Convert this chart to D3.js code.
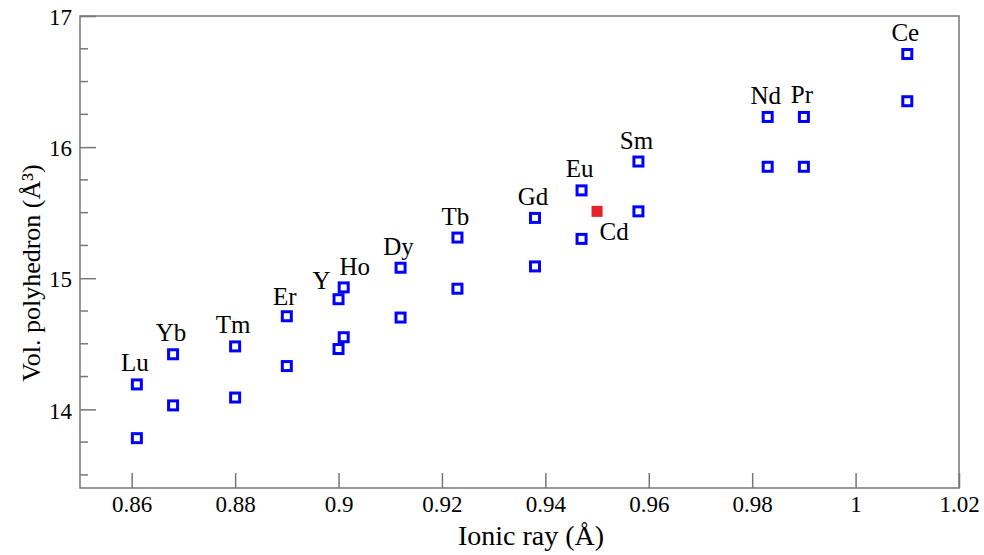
<!DOCTYPE html>
<html>
<head>
<meta charset="utf-8">
<script src="https://cdn.jsdelivr.net/npm/d3@7"></script>
<style>
    body { margin: 0; background: #fff; }
    svg text { font-family: "Liberation Serif", "DejaVu Serif", serif; fill: #000; }
</style>
</head>
<body>
<div id="chart"></div>
<script>
var width = 984,
    height = 555,
    margin = {top: 16, right: 25, bottom: 67, left: 80}
;

// Data
var elements = ['Lu', 'Yb', 'Tm', 'Er', 'Y', 'Ho', 'Dy', 'Tb', 'Gd', 'Eu', 'Sm', 'Nd', 'Pr', 'Ce'];
var ionicRay = [0.861, 0.868, 0.880, 0.890, 0.900, 0.901, 0.912, 0.923, 0.938, 0.947, 0.958, 0.983, 0.990, 1.010];
var volUpper = [14.19, 14.42, 14.48, 14.71, 14.84, 14.93, 15.08, 15.31, 15.46, 15.67, 15.89, 16.23, 16.23, 16.71];
var volLower = [13.78, 14.03, 14.09, 14.33, 14.46, 14.55, 14.70, 14.92, 15.09, 15.30, 15.51, 15.85, 15.85, 16.35];
var cdName = 'Cd',
    cdRay = 0.950,
    cdVol = 15.51;
var xTicks = [0.86, 0.88, 0.9, 0.92, 0.94, 0.96, 0.98, 1, 1.02];
var yTicks = [14, 15, 16, 17];
var yMinorTicks = [13.5, 13.75, 14.25, 14.5, 14.75, 15.25, 15.5, 15.75, 16.25, 16.5, 16.75];

var svg = d3.select('#chart')
    .append('svg')
    .attr('width', width)
    .attr('height', height)
;

var w = width - margin.left - margin.right,
    h = height - margin.top - margin.bottom;

var graph = svg.append('g')
    .attr('transform', 'translate(' + margin.left + ',' + margin.top + ')');

var x = d3.scaleLinear().domain([0.85, 1.02]).range([0, w]),
    y = d3.scaleLinear().domain([13.4, 17]).range([h, 0]);

var axisColor = '#777',
    serif = '"Liberation Serif", "DejaVu Serif", serif';

// Frame
graph.append('rect')
    .attr('width', w)
    .attr('height', h)
    .attr('fill', 'none')
    .attr('stroke', axisColor)
    .attr('stroke-width', 1.5);

var plain = function(d) { return String(+d.toFixed(2)); };

// X axis (ticks pointing inward)
var xAxis = graph.append('g')
    .attr('transform', 'translate(0,' + h + ')')
    .call(d3.axisBottom(x).tickValues(xTicks).tickSize(-15).tickPadding(7).tickFormat(plain));
xAxis.attr('font-family', null).attr('font-size', null);
xAxis.select('.domain').remove();
xAxis.selectAll('line').attr('stroke', axisColor).attr('stroke-width', 1.5);
xAxis.selectAll('text')
    .attr('dy', '0.75em')
    .style('font-family', serif)
    .style('font-size', '23px');

// Y axis
var yAxis = graph.append('g')
    .call(d3.axisLeft(y).tickValues(yTicks).tickSize(-16).tickPadding(8).tickFormat(plain));
yAxis.attr('font-family', null).attr('font-size', null);
yAxis.select('.domain').remove();
yAxis.selectAll('line').attr('stroke', axisColor).attr('stroke-width', 1.5);
yAxis.selectAll('text')
    .attr('dy', '0.38em')
    .style('font-family', serif)
    .style('font-size', '23px');

graph.append('g')
    .selectAll('line')
    .data(yMinorTicks)
    .enter()
    .append('line')
    .attr('x1', 0)
    .attr('x2', 8)
    .attr('y1', function(d) { return y(d); })
    .attr('y2', function(d) { return y(d); })
    .attr('stroke', axisColor)
    .attr('stroke-width', 1.5);

// Axis titles
svg.append('text')
    .attr('x', 531)
    .attr('y', 545)
    .attr('text-anchor', 'middle')
    .style('font-size', '28px')
    .text('Ionic ray (Å)');

svg.append('text')
    .attr('transform', 'translate(40,' + 273 + ') rotate(-90)')
    .attr('text-anchor', 'middle')
    .style('font-size', '26px')
    .text('Vol. polyhedron (Å³)');

// Points
var pts = elements.map(function(name, i) {
    return {name: name, r: ionicRay[i], hi: volUpper[i], lo: volLower[i]};
});

var sq = 9;
function drawSquares(key) {
    graph.append('g')
        .selectAll('rect')
        .data(pts)
        .enter()
        .append('rect')
        .attr('x', function(d) { return x(d.r) - sq / 2; })
        .attr('y', function(d) { return y(d[key]) - sq / 2; })
        .attr('width', sq)
        .attr('height', sq)
        .attr('fill', 'none')
        .attr('stroke', '#0000ff')
        .attr('stroke-width', 3);
}
drawSquares('hi');
drawSquares('lo');

graph.append('rect')
    .attr('x', x(cdRay) - 5.5)
    .attr('y', y(cdVol) - 5.5)
    .attr('width', 11)
    .attr('height', 11)
    .attr('fill', '#e8202a');

// Labels above the upper square, a few nudged aside
var nudge = {Y: [-17, -10], Ho: [11, -12], Pr: [-2, -14], Er: [-2, -11]};
graph.append('g')
    .selectAll('text')
    .data(pts)
    .enter()
    .append('text')
    .attr('x', function(d) { return x(d.r) + (nudge[d.name] ? nudge[d.name][0] : -2); })
    .attr('y', function(d) { return y(d.hi) + (nudge[d.name] ? nudge[d.name][1] : -13); })
    .attr('text-anchor', 'middle')
    .style('font-size', '25px')
    .text(function(d) { return d.name; });

graph.append('text')
    .attr('x', x(cdRay) + 17)
    .attr('y', y(cdVol) + 29)
    .attr('text-anchor', 'middle')
    .style('font-size', '25px')
    .text(cdName);
</script>
</body>
</html>
